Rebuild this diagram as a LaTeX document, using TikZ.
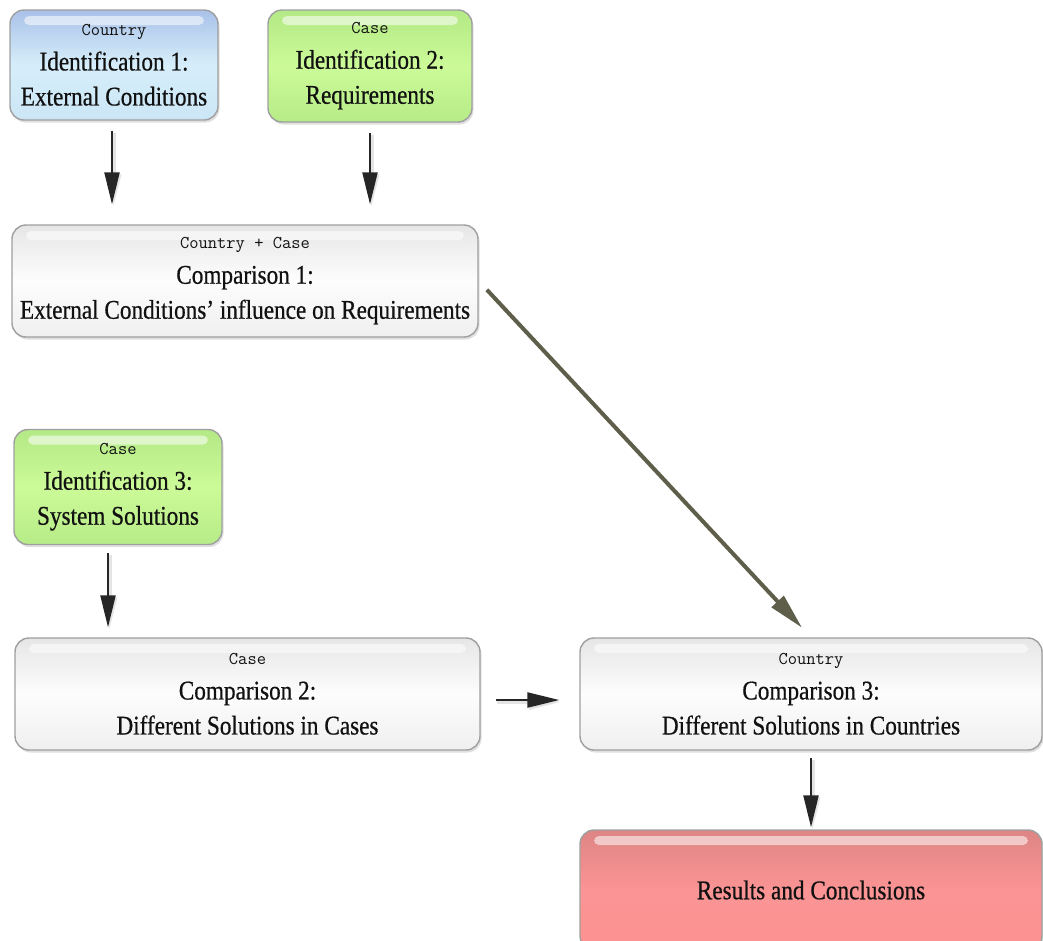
\documentclass[tikz,border=0pt]{standalone}
\usepackage{fontspec}
\usetikzlibrary{arrows.meta,shadows}
\newfontfamily\mainf[FakeStretch=0.86,FakeBold=0.6]{Liberation Serif}
\newcommand{\lbl}[1]{{\ttfamily\fontsize{18}{18}\selectfont #1}}
\definecolor{txt}{HTML}{111111}
\definecolor{bluetop}{HTML}{A9C1E8}
\definecolor{bluemid}{HTML}{D6EEFA}
\definecolor{bluebot}{HTML}{CBE6F6}
\definecolor{greentop}{HTML}{B3E986}
\definecolor{greenmid}{HTML}{CCFA98}
\definecolor{greenbot}{HTML}{B6EC88}
\definecolor{greytop}{HTML}{E6E6E6}
\definecolor{greymid}{HTML}{FDFDFD}
\definecolor{greybot}{HTML}{EFEFEF}
\definecolor{redtop}{HTML}{DE8585}
\definecolor{redmid}{HTML}{FB9494}
\definecolor{redbot}{HTML}{FD9292}
\definecolor{olive}{HTML}{5E5E4A}
\tikzset{
  box/.style={rounded corners=14, draw=gray!75, line width=1.4, align=center,
    text=txt, font=\mainf\fontsize{27}{35}\selectfont, inner sep=0,
    drop shadow={shadow xshift=1.5pt, shadow yshift=-2.5pt, opacity=0.25},
    path picture={\fill[white,opacity=0.55,rounded corners=5]
      ([xshift=14,yshift=-6]path picture bounding box.north west) rectangle
      ([xshift=-14,yshift=-15]path picture bounding box.north east);}},
  bluebox/.style={box, top color=bluetop, bottom color=bluebot, middle color=bluemid},
  greenbox/.style={box, top color=greentop, bottom color=greenbot, middle color=greenmid},
  greybox/.style={box, top color=greytop, bottom color=greybot, middle color=greymid},
  redbox/.style={box, top color=redtop, bottom color=redbot, middle color=redmid},
  arr/.style={-{Triangle[length=32pt,width=15pt]}, line width=2.2, draw=black!85,
    preaction={draw=black!30, line width=4, transform canvas={xshift=1.5pt,yshift=-2pt}, opacity=0.35}},
  darr/.style={-{Triangle[length=36pt,width=16pt]}, line width=4, draw=olive}
}
\begin{document}
\begin{tikzpicture}[x=1pt,y=-1pt]
\useasboundingbox (0,0) rectangle (1043,940);
\clip (0,0) rectangle (1043,940);
\node[bluebox, minimum width=208, minimum height=110] (id1) at (114,65)
  {\lbl{Country}\\ Identification 1:\\ External Conditions};
\node[greenbox, minimum width=204, minimum height=112] (id2) at (370,66)
  {\lbl{Case}\\ Identification 2:\\ Requirements};
\node[greybox, minimum width=466, minimum height=112] (comp1) at (245,281)
  {\lbl{Country + Case}\\ Comparison 1:\\ External Conditions’ influence on Requirements};
\node[greenbox, minimum width=208, minimum height=115] (id3) at (118,487)
  {\lbl{Case}\\ Identification 3:\\ System Solutions};
\node[greybox, minimum width=465, minimum height=112] (comp2) at (247.5,694)
  {\lbl{Case}\\ Comparison 2:\\ Different Solutions in Cases};
\node[greybox, minimum width=462, minimum height=112] (comp3) at (811,694)
  {\lbl{Country}\\ Comparison 3:\\ Different Solutions in Countries};
\node[redbox, minimum width=462, minimum height=120] (res) at (811,890)
  {Results and Conclusions};
\draw[arr, shorten <=10pt, shorten >=20pt] ([xshift=-2pt]id1.south) -- ([xshift=-2pt]id1.south |- comp1.north);
\draw[arr, shorten <=10pt, shorten >=20pt] (id2.south) -- (id2.south |- comp1.north);
\draw[darr, shorten <=12pt, shorten >=13pt] (comp1.east) -- (comp3.north);
\draw[arr, shorten <=8pt, shorten >=10pt] ([xshift=-10pt]id3.south) -- ([xshift=-10pt]id3.south |- comp2.north);
\draw[arr, shorten <=15pt, shorten >=20pt] ([yshift=-6pt]comp2.east) -- ([yshift=-6pt]comp2.east -| comp3.west);
\draw[arr, shorten <=7pt, shorten >=2pt] (comp3.south) -- (res.north);
\end{tikzpicture}
\end{document}
